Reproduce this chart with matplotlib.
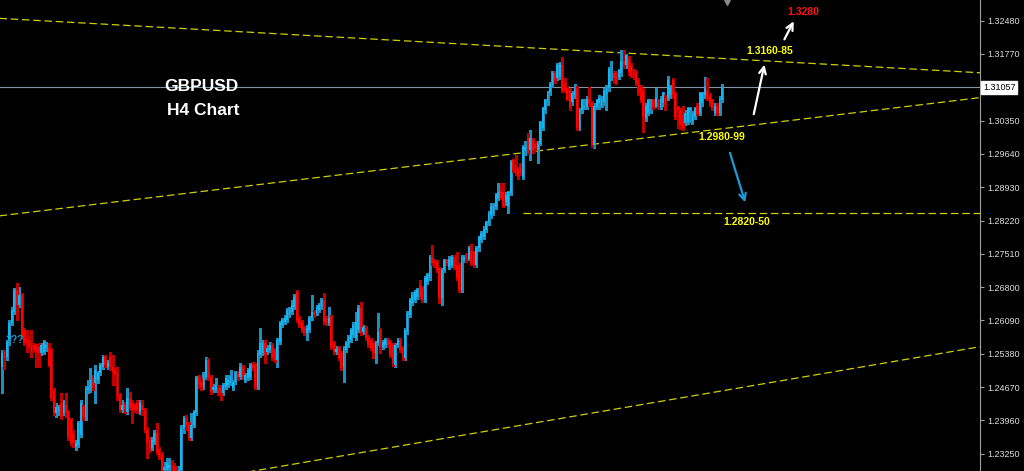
import numpy as np
import matplotlib
matplotlib.use("Agg")
import matplotlib.pyplot as plt
from matplotlib.transforms import blended_transform_factory

plt.rcParams['font.family'] = ['Liberation Sans', 'DejaVu Sans']

# GBPUSD H4 candles (oldest first)
opens = [
    1.2509, 1.2541, 1.2531, 1.2567, 1.2603, 1.2626, 1.2673, 1.2641, 1.2663, 1.2588,
    1.2571, 1.2567, 1.2560, 1.2556, 1.2556, 1.2552, 1.2539, 1.2541, 1.2550, 1.2550,
    1.2546, 1.2460, 1.2411, 1.2413, 1.2433, 1.2411, 1.2428, 1.2413, 1.2396, 1.2369,
    1.2339, 1.2343, 1.2364, 1.2424, 1.2403, 1.2460, 1.2460, 1.2486, 1.2475, 1.2482,
    1.2497, 1.2509, 1.2531, 1.2509, 1.2531, 1.2509, 1.2503, 1.2497, 1.2450, 1.2418,
    1.2428, 1.2413, 1.2443, 1.2433, 1.2428, 1.2433, 1.2413, 1.2428, 1.2418, 1.2375,
    1.2354, 1.2337, 1.2350, 1.2369, 1.2332, 1.2322, 1.2290, 1.2290, 1.2294, 1.2301,
    1.2298, 1.2290, 1.2281, 1.2290, 1.2379, 1.2401, 1.2386, 1.2358, 1.2386, 1.2411,
    1.2488, 1.2477, 1.2467, 1.2488, 1.2524, 1.2488, 1.2460, 1.2460, 1.2465, 1.2465,
    1.2454, 1.2467, 1.2471, 1.2475, 1.2465, 1.2477, 1.2497, 1.2488, 1.2509, 1.2482,
    1.2486, 1.2488, 1.2514, 1.2514, 1.2467, 1.2535, 1.2539, 1.2560, 1.2541, 1.2546,
    1.2556, 1.2546, 1.2524, 1.2563, 1.2599, 1.2605, 1.2609, 1.2620, 1.2626, 1.2637,
    1.2669, 1.2614, 1.2605, 1.2592, 1.2582, 1.2588, 1.2614, 1.2626, 1.2624, 1.2631,
    1.2637, 1.2652, 1.2614, 1.2603, 1.2616, 1.2560, 1.2541, 1.2550, 1.2539, 1.2509,
    1.2546, 1.2556, 1.2567, 1.2577, 1.2571, 1.2588, 1.2635, 1.2584, 1.2592, 1.2573,
    1.2567, 1.2560, 1.2539, 1.2560, 1.2588, 1.2552, 1.2556, 1.2567, 1.2563, 1.2556,
    1.2514, 1.2556, 1.2567, 1.2550, 1.2528, 1.2584, 1.2620, 1.2646, 1.2652, 1.2658,
    1.2684, 1.2678, 1.2652, 1.2690, 1.2699, 1.2744, 1.2737,
    1.2733, 1.2720, 1.2656, 1.2716, 1.2737, 1.2722, 1.2727, 1.2744, 1.2727, 1.2727,
    1.2673, 1.2737, 1.2748, 1.2741, 1.2758, 1.2754, 1.2727, 1.2763, 1.2780, 1.2786,
    1.2801, 1.2816, 1.2833,
    1.2837, 1.2850, 1.2869, 1.2886, 1.2882, 1.2861, 1.2854, 1.2880, 1.2950, 1.2940,
    1.2933, 1.2940, 1.2914, 1.2972, 1.2997, 1.2972, 1.2993, 1.2986, 1.2972,
    1.2986, 1.3020, 1.3057, 1.3074, 1.3093, 1.3110, 1.3136, 1.3125, 1.3127, 1.3153,
    1.3116, 1.3104, 1.3099,
    1.3074, 1.3089, 1.3104, 1.3020, 1.3057, 1.3063, 1.3063, 1.3082, 1.3072, 1.2982,
    1.3063, 1.3072, 1.3067, 1.3074, 1.3089, 1.3104, 1.3125, 1.3136,
    1.3136, 1.3127, 1.3136, 1.3163, 1.3153, 1.3167, 1.3153, 1.3142, 1.3138, 1.3121,
    1.3106, 1.3099,
    1.3040, 1.3052, 1.3078, 1.3078, 1.3067, 1.3078,
    1.3063, 1.3072, 1.3084, 1.3084, 1.3089, 1.3121, 1.3093, 1.3063,
    1.3057, 1.3050, 1.3029, 1.3031, 1.3057,
    1.3031, 1.3042, 1.3067, 1.3052, 1.3072, 1.3089, 1.3099, 1.3089,
    1.3078, 1.3052, 1.3067, 1.3052, 1.3078,
]

highs = [
    1.2546, 1.2546, 1.2567, 1.2609, 1.2637, 1.2678, 1.2688, 1.2680, 1.2667, 1.2592,
    1.2588, 1.2575, 1.2588, 1.2560, 1.2558, 1.2560, 1.2560, 1.2567, 1.2563, 1.2560,
    1.2550, 1.2465, 1.2433, 1.2428, 1.2454, 1.2439, 1.2454, 1.2418, 1.2401, 1.2375,
    1.2354, 1.2394, 1.2439, 1.2428, 1.2469, 1.2482, 1.2507, 1.2492, 1.2514, 1.2501,
    1.2518, 1.2535, 1.2535, 1.2524, 1.2541, 1.2535, 1.2507, 1.2509, 1.2454, 1.2439,
    1.2435, 1.2465, 1.2456, 1.2439, 1.2433, 1.2439, 1.2439, 1.2439, 1.2422, 1.2381,
    1.2360, 1.2360, 1.2375, 1.2390, 1.2339, 1.2328, 1.2307, 1.2315, 1.2315, 1.2311,
    1.2305, 1.2298, 1.2298, 1.2386, 1.2405, 1.2407, 1.2392, 1.2411, 1.2418, 1.2490,
    1.2492, 1.2486, 1.2499, 1.2531, 1.2528, 1.2492, 1.2473, 1.2486, 1.2471, 1.2471,
    1.2475, 1.2492, 1.2492, 1.2503, 1.2482, 1.2501, 1.2501, 1.2518, 1.2514, 1.2497,
    1.2507, 1.2518, 1.2520, 1.2518, 1.2546, 1.2592, 1.2567, 1.2567, 1.2556, 1.2563,
    1.2560, 1.2550, 1.2571, 1.2607, 1.2614, 1.2620, 1.2635, 1.2637, 1.2652, 1.2665,
    1.2673, 1.2618, 1.2609, 1.2597, 1.2599, 1.2618, 1.2663, 1.2631, 1.2641, 1.2646,
    1.2656, 1.2667, 1.2618, 1.2637, 1.2620, 1.2565, 1.2554, 1.2554, 1.2543, 1.2554,
    1.2565, 1.2577, 1.2592, 1.2605, 1.2626, 1.2641, 1.2648, 1.2599, 1.2597, 1.2577,
    1.2571, 1.2565, 1.2565, 1.2624, 1.2592, 1.2567, 1.2571, 1.2571, 1.2567, 1.2560,
    1.2560, 1.2571, 1.2571, 1.2554, 1.2592, 1.2629, 1.2656, 1.2669, 1.2673, 1.2678,
    1.2695, 1.2682, 1.2703, 1.2710, 1.2748, 1.2769, 1.2741,
    1.2737, 1.2724, 1.2720, 1.2741, 1.2741, 1.2746, 1.2748, 1.2748, 1.2754, 1.2731,
    1.2748, 1.2748, 1.2752, 1.2767, 1.2773, 1.2758, 1.2767, 1.2790, 1.2799, 1.2810,
    1.2822, 1.2842, 1.2859,
    1.2859, 1.2880, 1.2901, 1.2901, 1.2901, 1.2882, 1.2886, 1.2950, 1.2954, 1.2961,
    1.2937, 1.2944, 1.2982, 1.2991, 1.3008, 1.3014, 1.2999, 1.2991, 1.2991,
    1.3035, 1.3065, 1.3082, 1.3099, 1.3118, 1.3140, 1.3140, 1.3157, 1.3159, 1.3170,
    1.3125, 1.3108, 1.3104,
    1.3099, 1.3114, 1.3108, 1.3061, 1.3082, 1.3082, 1.3087, 1.3106, 1.3076, 1.3072,
    1.3082, 1.3089, 1.3087, 1.3104, 1.3110, 1.3150, 1.3163, 1.3140,
    1.3140, 1.3146, 1.3185, 1.3185, 1.3178, 1.3172, 1.3157, 1.3146, 1.3142, 1.3125,
    1.3110, 1.3104,
    1.3072, 1.3082, 1.3082, 1.3082, 1.3104, 1.3082,
    1.3087, 1.3097, 1.3089, 1.3131, 1.3110, 1.3125, 1.3097, 1.3067,
    1.3061, 1.3067, 1.3057, 1.3065, 1.3065,
    1.3055, 1.3065, 1.3072, 1.3097, 1.3097, 1.3127, 1.3125, 1.3093,
    1.3082, 1.3072, 1.3072, 1.3087, 1.3114,
]

lows = [
    1.2454, 1.2505, 1.2524, 1.2556, 1.2599, 1.2622, 1.2609, 1.2637, 1.2571, 1.2556,
    1.2541, 1.2546, 1.2531, 1.2541, 1.2509, 1.2509, 1.2535, 1.2537, 1.2543, 1.2511,
    1.2439, 1.2407, 1.2403, 1.2407, 1.2399, 1.2407, 1.2403, 1.2354, 1.2343, 1.2339,
    1.2332, 1.2339, 1.2360, 1.2396, 1.2396, 1.2454, 1.2456, 1.2460, 1.2433, 1.2475,
    1.2492, 1.2505, 1.2509, 1.2505, 1.2503, 1.2471, 1.2471, 1.2439, 1.2413, 1.2413,
    1.2411, 1.2409, 1.2418, 1.2390, 1.2413, 1.2411, 1.2409, 1.2407, 1.2371, 1.2315,
    1.2328, 1.2332, 1.2345, 1.2324, 1.2313, 1.2286, 1.2281, 1.2281, 1.2284, 1.2279,
    1.2277, 1.2273, 1.2273, 1.2284, 1.2369, 1.2375, 1.2354, 1.2354, 1.2381, 1.2407,
    1.2465, 1.2460, 1.2462, 1.2484, 1.2482, 1.2452, 1.2456, 1.2456, 1.2450, 1.2439,
    1.2450, 1.2462, 1.2467, 1.2471, 1.2460, 1.2473, 1.2482, 1.2484, 1.2484, 1.2477,
    1.2482, 1.2484, 1.2503, 1.2462, 1.2462, 1.2531, 1.2535, 1.2518, 1.2537, 1.2541,
    1.2524, 1.2520, 1.2509, 1.2558, 1.2594, 1.2601, 1.2605, 1.2616, 1.2622, 1.2633,
    1.2605, 1.2594, 1.2584, 1.2577, 1.2567, 1.2584, 1.2609, 1.2616, 1.2620, 1.2626,
    1.2633, 1.2601, 1.2599, 1.2599, 1.2548, 1.2537, 1.2537, 1.2524, 1.2503, 1.2477,
    1.2541, 1.2552, 1.2563, 1.2573, 1.2567, 1.2584, 1.2577, 1.2580, 1.2567, 1.2552,
    1.2546, 1.2528, 1.2518, 1.2556, 1.2539, 1.2548, 1.2552, 1.2552, 1.2531, 1.2511,
    1.2509, 1.2552, 1.2541, 1.2524, 1.2524, 1.2580, 1.2616, 1.2641, 1.2648, 1.2654,
    1.2654, 1.2648, 1.2648, 1.2686, 1.2695, 1.2727, 1.2722,
    1.2712, 1.2646, 1.2641, 1.2712, 1.2727, 1.2718, 1.2722, 1.2718, 1.2695, 1.2669,
    1.2669, 1.2733, 1.2733, 1.2737, 1.2727, 1.2722, 1.2722, 1.2758, 1.2776, 1.2782,
    1.2797, 1.2812, 1.2827,
    1.2833, 1.2846, 1.2865, 1.2867, 1.2850, 1.2856, 1.2839, 1.2876, 1.2925, 1.2918,
    1.2910, 1.2918, 1.2910, 1.2961, 1.2963, 1.2950, 1.2967, 1.2972, 1.2944,
    1.2982, 1.3016, 1.3052, 1.3069, 1.3089, 1.3106, 1.3116, 1.3121, 1.3123, 1.3095,
    1.3095, 1.3078, 1.3057,
    1.3069, 1.3084, 1.3016, 1.3016, 1.3052, 1.3059, 1.3059, 1.3067, 1.2978, 1.2976,
    1.3059, 1.3059, 1.3063, 1.3069, 1.3057, 1.3099, 1.3121, 1.3116,
    1.3112, 1.3123, 1.3131, 1.3148, 1.3148, 1.3133, 1.3127, 1.3123, 1.3110, 1.3089,
    1.3074, 1.3010,
    1.3035, 1.3048, 1.3052, 1.3059, 1.3063, 1.3059,
    1.3059, 1.3067, 1.3057, 1.3080, 1.3084, 1.3084, 1.3038, 1.3020,
    1.3018, 1.3016, 1.3025, 1.3027, 1.3031,
    1.3027, 1.3038, 1.3046, 1.3048, 1.3067, 1.3084, 1.3078, 1.3067,
    1.3057, 1.3048, 1.3048, 1.3048, 1.3074,
]

closes = [
    1.2539, 1.2528, 1.2563, 1.2603, 1.2631, 1.2673, 1.2641, 1.2663, 1.2573, 1.2560,
    1.2560, 1.2552, 1.2541, 1.2546, 1.2541, 1.2539, 1.2556, 1.2563, 1.2556, 1.2514,
    1.2443, 1.2411, 1.2424, 1.2424, 1.2403, 1.2435, 1.2411, 1.2360, 1.2347, 1.2347,
    1.2347, 1.2390, 1.2433, 1.2403, 1.2465, 1.2467, 1.2482, 1.2465, 1.2503, 1.2497,
    1.2514, 1.2531, 1.2514, 1.2518, 1.2509, 1.2499, 1.2492, 1.2445, 1.2418, 1.2428,
    1.2418, 1.2443, 1.2422, 1.2418, 1.2418, 1.2418, 1.2433, 1.2418, 1.2375, 1.2347,
    1.2332, 1.2354, 1.2369, 1.2328, 1.2318, 1.2290, 1.2296, 1.2305, 1.2301, 1.2290,
    1.2286, 1.2281, 1.2290, 1.2379, 1.2401, 1.2381, 1.2358, 1.2386, 1.2413, 1.2486,
    1.2471, 1.2467, 1.2492, 1.2524, 1.2486, 1.2456, 1.2467, 1.2471, 1.2454, 1.2454,
    1.2471, 1.2486, 1.2482, 1.2490, 1.2477, 1.2497, 1.2486, 1.2509, 1.2488, 1.2492,
    1.2503, 1.2514, 1.2507, 1.2467, 1.2539, 1.2560, 1.2560, 1.2535, 1.2550, 1.2556,
    1.2528, 1.2524, 1.2567, 1.2603, 1.2609, 1.2614, 1.2631, 1.2631, 1.2641, 1.2658,
    1.2609, 1.2599, 1.2588, 1.2582, 1.2592, 1.2614, 1.2626, 1.2620, 1.2637, 1.2641,
    1.2652, 1.2605, 1.2603, 1.2614, 1.2552, 1.2541, 1.2548, 1.2528, 1.2507, 1.2550,
    1.2560, 1.2573, 1.2588, 1.2599, 1.2605, 1.2635, 1.2582, 1.2594, 1.2571, 1.2556,
    1.2550, 1.2539, 1.2560, 1.2584, 1.2552, 1.2563, 1.2567, 1.2556, 1.2535, 1.2518,
    1.2556, 1.2567, 1.2546, 1.2528, 1.2588, 1.2624, 1.2652, 1.2663, 1.2669, 1.2673,
    1.2658, 1.2652, 1.2699, 1.2705, 1.2744, 1.2731, 1.2731,
    1.2716, 1.2656, 1.2716, 1.2737, 1.2731, 1.2741, 1.2744, 1.2722, 1.2699, 1.2673,
    1.2744, 1.2744, 1.2737, 1.2763, 1.2731, 1.2727, 1.2763, 1.2786, 1.2795, 1.2805,
    1.2818, 1.2837, 1.2854,
    1.2854, 1.2876, 1.2882, 1.2871, 1.2854, 1.2876, 1.2882, 1.2946, 1.2929, 1.2923,
    1.2914, 1.2923, 1.2978, 1.2978, 1.2967, 1.2997, 1.2972, 1.2976, 1.2986,
    1.3031, 1.3061, 1.3078, 1.3095, 1.3114, 1.3136, 1.3121, 1.3153, 1.3157, 1.3099,
    1.3099, 1.3082, 1.3063,
    1.3093, 1.3104, 1.3020, 1.3057, 1.3078, 1.3067, 1.3082, 1.3072, 1.2982, 1.3067,
    1.3078, 1.3084, 1.3082, 1.3099, 1.3106, 1.3146, 1.3125, 1.3125,
    1.3116, 1.3142, 1.3163, 1.3153, 1.3174, 1.3138, 1.3131, 1.3127, 1.3114, 1.3093,
    1.3078, 1.3042,
    1.3067, 1.3078, 1.3078, 1.3063, 1.3084, 1.3063,
    1.3082, 1.3093, 1.3067, 1.3121, 1.3106, 1.3089, 1.3042, 1.3057,
    1.3025, 1.3020, 1.3052, 1.3061, 1.3061,
    1.3050, 1.3061, 1.3050, 1.3093, 1.3093, 1.3106, 1.3082, 1.3072,
    1.3061, 1.3067, 1.3052, 1.3082, 1.3106,
]

last_price = 1.31057
tick_prices = [1.23250, 1.23960, 1.24670, 1.25380, 1.26090, 1.26800, 1.27510,
               1.28220, 1.28930, 1.29640, 1.30350, 1.31770, 1.32480]

# hand-drawn trend lines as (bar index, price) end points
upper_line = [(-1, 1.3253), (398, 1.3137)]
channel_line = [(-1, 1.2832), (398, 1.3084)]
target_line = [(212, 1.2838), (398, 1.2838)]
lower_line = [(100, 1.2286), (398, 1.2553)]

# level labels: text, bar index, price, colour
level_labels = [
    ('1.3280', 326.0, 1.3266, '#ff1010'),
    ('1.3160-85', 312.6, 1.3183, '#ffff00'),
    ('1.2980-99', 293.0, 1.3000, '#ffff00'),
    ('1.2820-50', 303.2, 1.2819, '#ffff00'),
]

# arrows: (tail bar, tail price) -> (head bar, head price), colour
arrows = [
    ((305.7, 1.3043), (310.5, 1.3160), 'white'),
    ((317.9, 1.3203), (322.7, 1.3252), 'white'),
    ((295.9, 1.2972), (302.8, 1.2855), '#1e9ad6'),
]

assert len(opens) == len(highs) == len(lows) == len(closes)

o = np.array(opens)
h = np.array(highs)
l = np.array(lows)
c = np.array(closes)
x = np.arange(len(c))
up = c >= o

fig = plt.figure(figsize=(10.24, 4.71), dpi=100, facecolor='black')
ax = fig.add_axes([0, 0, 980 / 1024, 1])
ax.set_facecolor('black')

# wicks then bodies, drawn pixel-snapped like the terminal does
ax.vlines(x[up], l[up], h[up], colors='#1a8fc0', linewidth=0.75, zorder=2,
          antialiased=False)
ax.vlines(x[~up], l[~up], h[~up], colors='#c00000', linewidth=0.75, zorder=2,
          antialiased=False)
body = np.where(np.abs(c - o) < 0.00004, 0.00004, c - o)
ax.bar(x[up], body[up], bottom=o[up], width=0.75, color='#12b4f2', linewidth=0,
       zorder=3, antialiased=False)
ax.bar(x[~up], body[~up], bottom=o[~up], width=0.75, color='#ff0000', linewidth=0,
       zorder=3, antialiased=False)

# current price line
ax.axhline(last_price, color='#8494a4', linewidth=0.8, zorder=1)

# trend lines
for line in (upper_line, channel_line, target_line, lower_line):
    xs, ys = zip(*line)
    ax.plot(xs, ys, color='#d0d000', linewidth=0.9, dashes=(6, 3), zorder=1)

for text, bx, py, col in level_labels:
    ax.text(bx, py, text, color=col, fontsize=7.5, fontweight='bold',
            ha='center', va='center', zorder=5)

for tail, head, col in arrows:
    ax.annotate('', xy=head, xytext=tail,
                arrowprops=dict(arrowstyle='->', color=col, lw=1.6, mutation_scale=12),
                zorder=5)

ax.text(0.205, 0.817, 'GBPUSD', transform=ax.transAxes, color='white',
        fontsize=12.5, fontweight='bold', ha='center', va='center', zorder=6)
ax.text(0.207, 0.766, 'H4 Chart', transform=ax.transAxes, color='white',
        fontsize=12.5, fontweight='bold', ha='center', va='center', zorder=6)
ax.text(5.3, 1.2567, '???', color='#1a9fd8', fontsize=7, fontweight='bold',
        ha='center', va='center', zorder=6)

# shift marker at the top
ax.plot([727 / 980], [1 - 2 / 471], marker='v', color='#8a8a8a', markersize=5,
        transform=ax.transAxes, clip_on=False, zorder=6)

ax.set_xlim(-0.81, 398)
ax.set_ylim(1.22881, 1.32921)
ax.set_xticks([])
ax.yaxis.tick_right()
ax.set_yticks(tick_prices)
ax.set_yticklabels(['%.5f' % p for p in tick_prices])
ax.tick_params(axis='y', colors='#a0a0a0', labelcolor='#dcdcdc', labelsize=6.5,
               length=3, width=0.8, pad=2, direction='out')
for side in ('top', 'left', 'bottom'):
    ax.spines[side].set_visible(False)
ax.spines['right'].set_color('#a0a0a0')
ax.spines['right'].set_linewidth(0.8)

# price label box on the axis
trans = blended_transform_factory(ax.transAxes, ax.transData)
ax.text(1.0 + 3 / 980, last_price, '%.5f' % last_price, transform=trans,
        color='black', fontsize=6.5, ha='left', va='center', zorder=7,
        bbox=dict(boxstyle='square,pad=0.2', fc='white', ec='white'), clip_on=False)

fig.savefig('out.png', dpi=100, facecolor='black')
